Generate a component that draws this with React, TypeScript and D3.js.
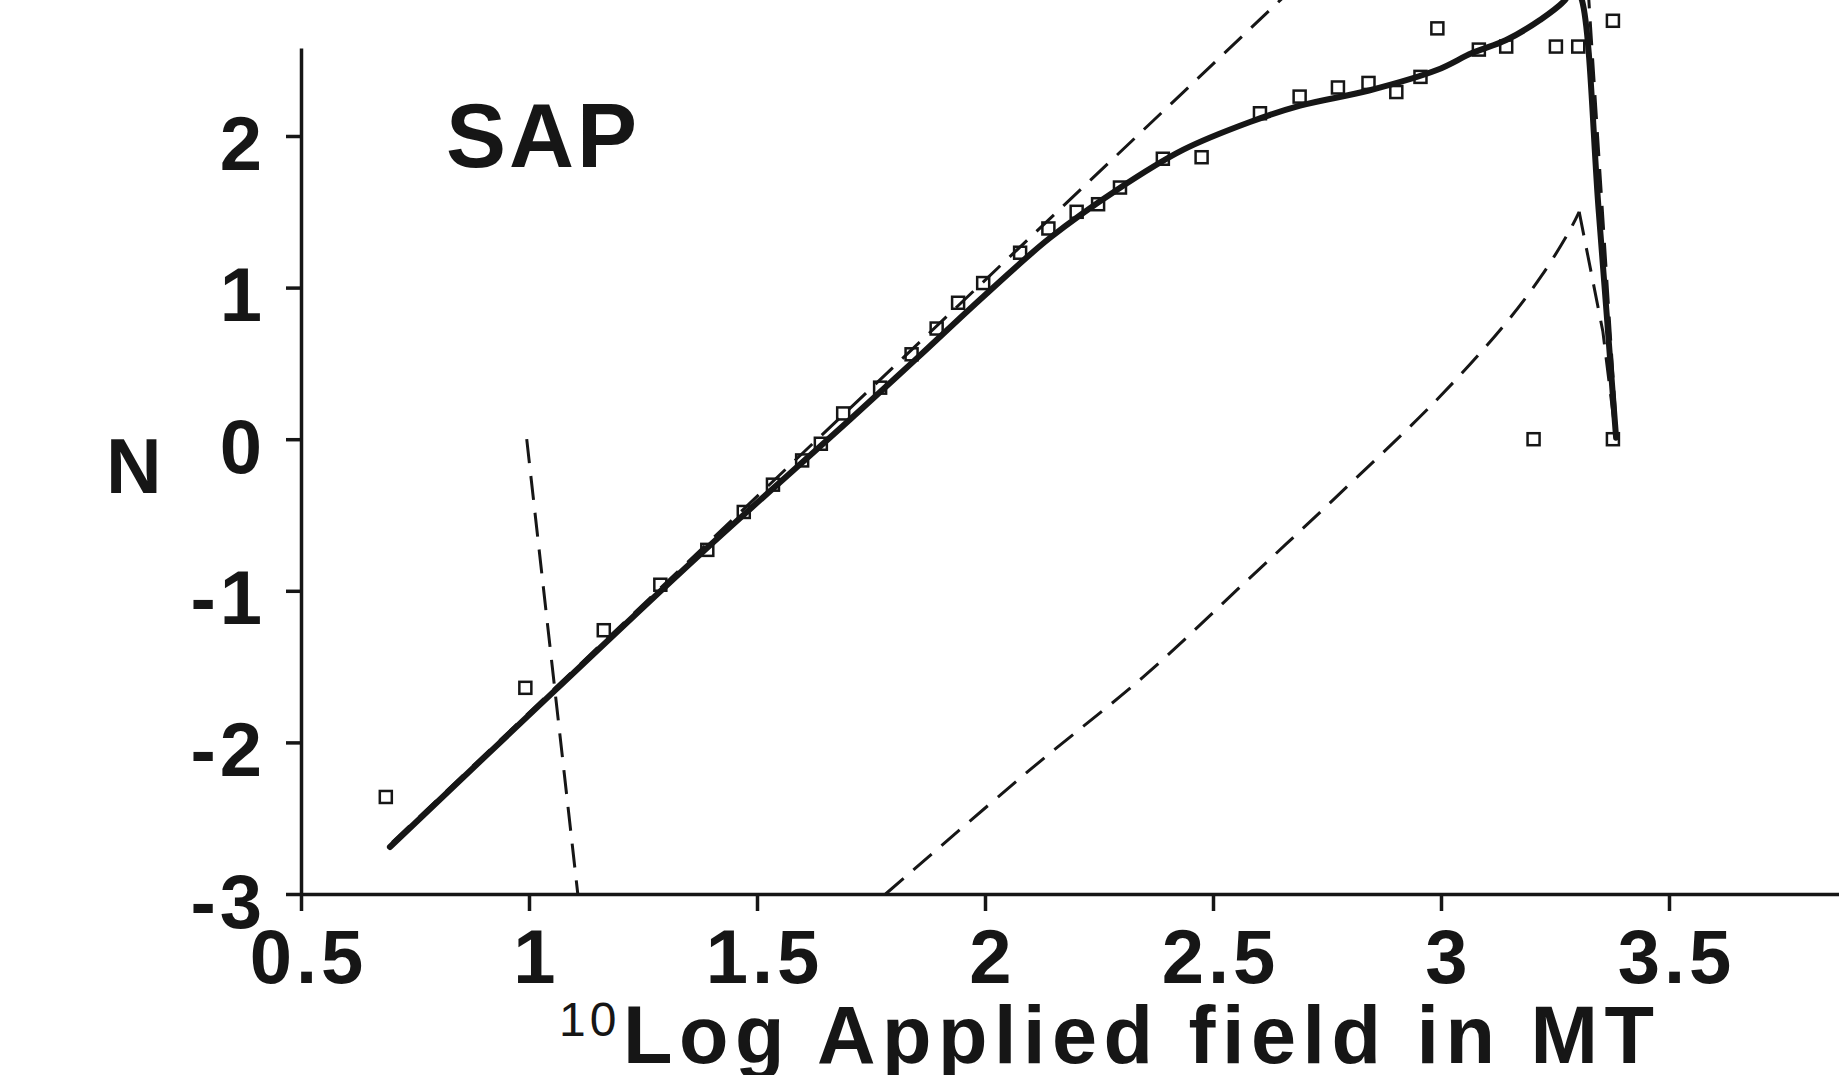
import React, { useEffect, useRef } from 'react';
import * as d3 from 'd3';

// axis ticks
const xTicks = [0.5, 1, 1.5, 2, 2.5, 3, 3.5];
const yTicks = [-3, -2, -1, 0, 1, 2];

// measured points (squares)
const logField = [0.686, 0.992, 1.164, 1.288, 1.391, 1.471, 1.535, 1.599, 1.640, 1.689, 1.770, 1.839, 1.894, 1.941, 1.996, 2.077, 2.139, 2.201, 2.248, 2.296, 2.390, 2.475, 2.603, 2.690, 2.774, 2.841, 2.902, 2.955, 2.992, 3.083, 3.143, 3.252, 3.301, 3.377, 3.203, 3.377];
const nMeasured = [-2.36, -1.64, -1.26, -0.96, -0.73, -0.48, -0.30, -0.14, -0.03, 0.17, 0.34, 0.56, 0.73, 0.90, 1.03, 1.23, 1.39, 1.50, 1.55, 1.66, 1.85, 1.86, 2.15, 2.26, 2.32, 2.35, 2.29, 2.39, 2.71, 2.57, 2.59, 2.59, 2.59, 2.76, 0.0, 0.0];

// solid fitted curve
const fitX = [0.695, 1.056, 1.375, 1.704, 1.851, 1.996, 2.142, 2.289, 2.434, 2.581, 2.691, 2.842, 2.991, 3.068, 3.143, 3.217, 3.272, 3.292, 3.309, 3.346, 3.384];
const fitN = [-2.69, -1.66, -0.76, 0.13, 0.535, 0.94, 1.327, 1.644, 1.908, 2.092, 2.20, 2.30, 2.435, 2.547, 2.633, 2.765, 2.897, 3.0, 2.897, 1.5, 0.01];

// dashed straight trend line
const trendX = [0.70, 2.67];
const trendN = [-2.66, 2.96];

// dashed lower curve
const lowX = [1.782, 2.099, 2.354, 2.570, 2.767, 2.994, 3.145, 3.221, 3.281, 3.303];
const lowN = [-3.0, -2.18, -1.55, -0.945, -0.39, 0.27, 0.776, 1.08, 1.37, 1.50];
const lowDropX = [3.303, 3.355, 3.384];
const lowDropN = [1.50, 0.71, 0.0];

// dashed steep lines
const stepX = [0.995, 1.107];
const stepN = [0, -3];
const dropX = [3.322, 3.386];
const dropN = [3.0, 0.0];

const W = 1839;
const H = 1075;
const ink = '#161616';
const font = '"Liberation Sans", Arial, Helvetica, sans-serif';

const SapChart = () => {
  const svgRef = useRef<SVGSVGElement>(null);

  useEffect(() => {
    const svg = d3.select(svgRef.current);
    svg.selectAll('*').remove();

    const x = d3.scaleLinear().domain([0.5, 4]).range([301, 1897]);
    const y = d3.scaleLinear().domain([-3, 2.58]).range([894, 894 - 5.58 * 151.6]);

    const zip = (xs, ys) => xs.map((v, i) => [v, ys[i]]);
    const line = d3.line().x(d => x(d[0])).y(d => y(d[1]));
    const smooth = d3.line().x(d => x(d[0])).y(d => y(d[1])).curve(d3.curveCatmullRom.alpha(0.5));

    // axes
    const yAxis = svg.append('g')
      .attr('transform', `translate(${x(0.5)},0)`)
      .call(d3.axisLeft(y).tickValues(yTicks).tickSize(15).tickSizeOuter(0).tickFormat(d => String(d)));
    const xAxis = svg.append('g')
      .attr('transform', `translate(0,${y(-3)})`)
      .call(d3.axisBottom(x).tickValues(xTicks).tickSize(17).tickSizeOuter(0).tickFormat(d => String(d)));

    [yAxis, xAxis].forEach(g => {
      g.attr('font-family', font).attr('font-size', 76).attr('font-weight', 'bold');
      g.select('.domain').attr('stroke', ink).attr('stroke-width', 3.5);
      g.selectAll('.tick line').attr('stroke', ink).attr('stroke-width', 3.5);
      g.selectAll('.tick text').attr('fill', ink).attr('letter-spacing', 4);
    });
    yAxis.selectAll('.tick text').attr('x', -35).attr('dy', 33);
    xAxis.selectAll('.tick text').attr('y', 89).attr('dy', 0).attr('dx', 7);

    // dashed lines
    const dashed = [zip(trendX, trendN), zip(stepX, stepN), zip(dropX, dropN), zip(lowDropX, lowDropN)];
    dashed.forEach(pts => {
      svg.append('path')
        .attr('d', line(pts))
        .attr('fill', 'none')
        .attr('stroke', ink)
        .attr('stroke-width', 3)
        .attr('stroke-dasharray', '24 13');
    });
    svg.append('path')
      .attr('d', smooth(zip(lowX, lowN)))
      .attr('fill', 'none')
      .attr('stroke', ink)
      .attr('stroke-width', 3)
      .attr('stroke-dasharray', '24 13');

    // solid fit
    svg.append('path')
      .attr('d', smooth(zip(fitX, fitN)))
      .attr('fill', 'none')
      .attr('stroke', ink)
      .attr('stroke-width', 6)
      .attr('stroke-linecap', 'round');

    // measured squares
    const s = 12;
    svg.append('g')
      .selectAll('rect')
      .data(zip(logField, nMeasured))
      .join('rect')
      .attr('x', d => x(d[0]) - s / 2)
      .attr('y', d => y(d[1]) - s / 2)
      .attr('width', s)
      .attr('height', s)
      .attr('fill', 'none')
      .attr('stroke', ink)
      .attr('stroke-width', 2.5);

    // labels
    svg.append('text')
      .attr('x', 446).attr('y', 167)
      .attr('font-family', font).attr('font-weight', 'bold').attr('font-size', 90)
      .attr('letter-spacing', 3).attr('fill', ink)
      .text('SAP');
    svg.append('text')
      .attr('x', 106).attr('y', 493)
      .attr('font-family', font).attr('font-weight', 'bold').attr('font-size', 77)
      .attr('fill', ink)
      .text('N');
    svg.append('text')
      .attr('x', 559).attr('y', 1036)
      .attr('font-family', font).attr('font-size', 48)
      .attr('letter-spacing', 4).attr('fill', ink)
      .text('10');
    svg.append('text')
      .attr('x', 623).attr('y', 1063)
      .attr('font-family', font).attr('font-weight', 'bold').attr('font-size', 81)
      .attr('letter-spacing', 6.5).attr('fill', ink)
      .text('Log Applied field in MT');
  }, []);

  return (
    <svg
      ref={svgRef}
      width={W}
      height={H}
      style={{ position: 'absolute', left: 0, top: 0, background: '#fff' }}
    />
  );
};

export default function App() {
  return <SapChart />;
}
